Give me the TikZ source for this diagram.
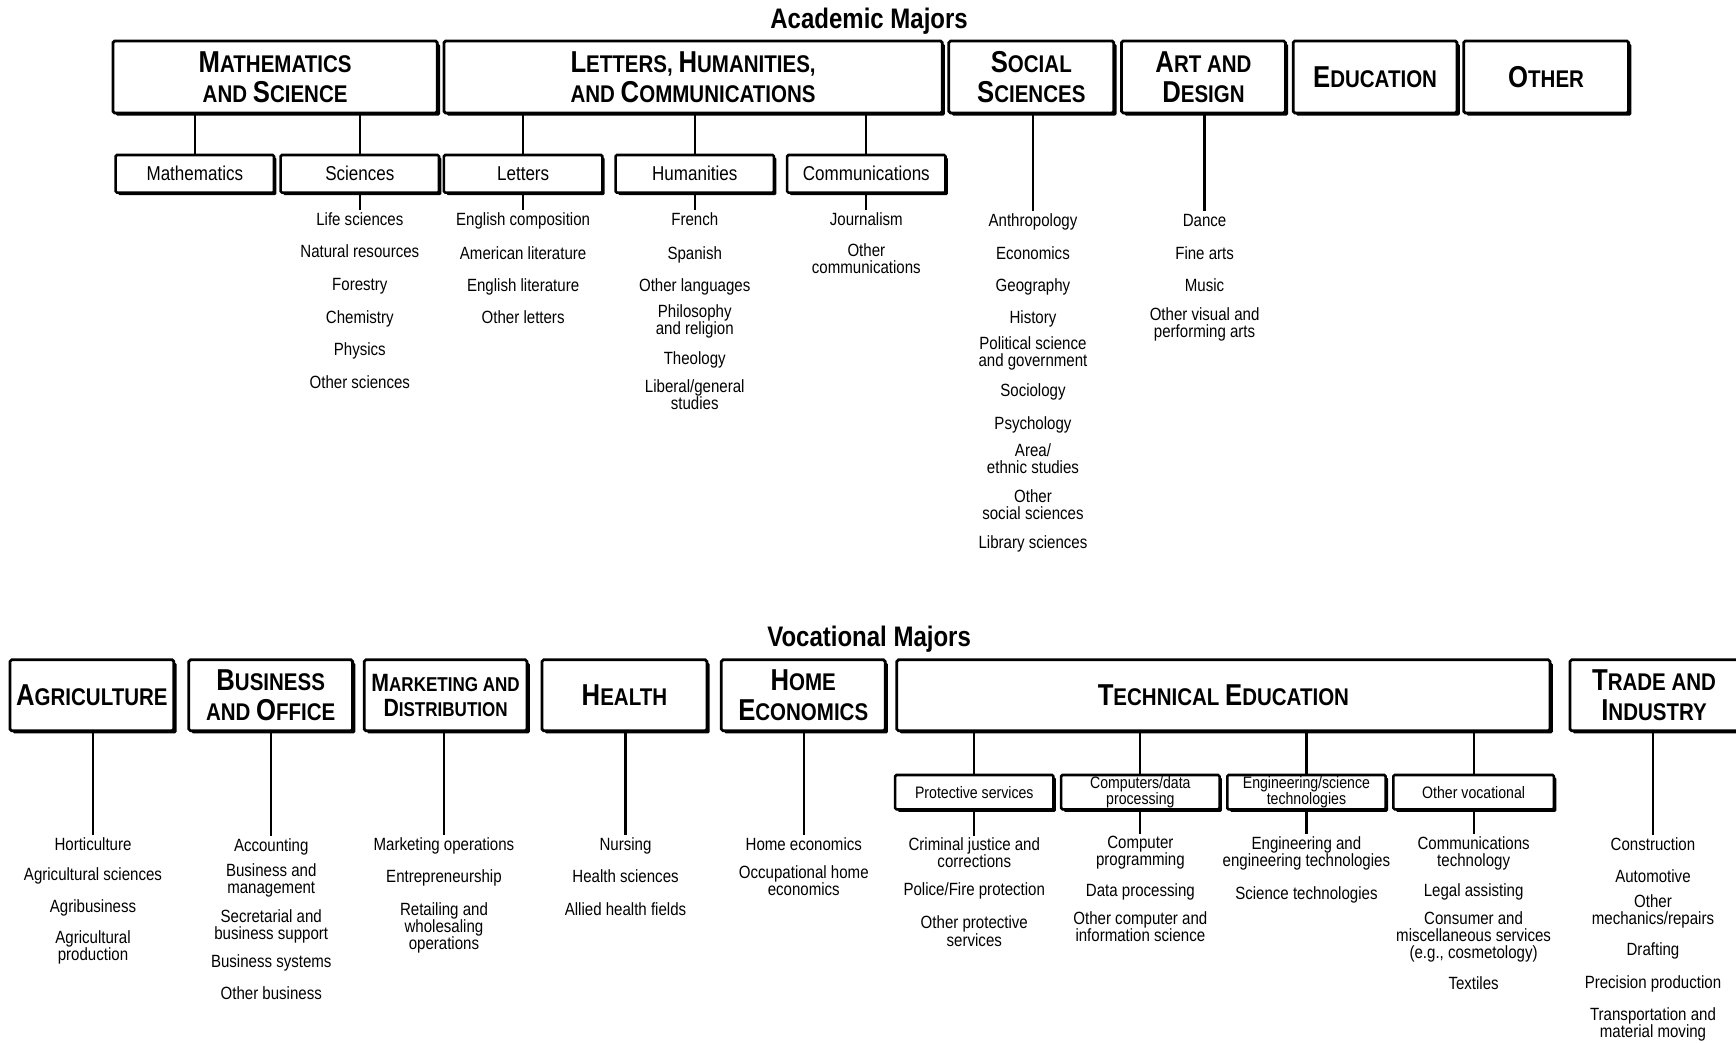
\documentclass[tikz,border=0pt]{standalone}
\usepackage{fontspec}
\setmainfont{Liberation Sans}[FakeStretch=0.85]
\usetikzlibrary{shadows}
\newcommand\Bg[1]{{\fontsize{27.3}{27}\selectfont #1}}
\newcommand\Bm[1]{{\fontsize{22.6}{23}\selectfont #1}}
\tikzset{
  hbox/.style={draw, line width=2.5pt, fill=white, rounded corners=1.5pt, inner sep=0pt,
    align=center, font=\bfseries\fontsize{21.8}{27}\selectfont,
    drop shadow={shadow xshift=2.5pt, shadow yshift=-2.5pt, fill=black, opacity=1}},
  mbox/.style={hbox, font=\bfseries\fontsize{18.1}{23}\selectfont},
  sbox/.style={draw, line width=2.3pt, fill=white, rounded corners=1.2pt, inner sep=0pt,
    align=center, minimum width=143pt, minimum height=34pt, font=\fontsize{18.1}{18}\selectfont,
    drop shadow={shadow xshift=2.2pt, shadow yshift=-2.2pt, fill=black, opacity=1}},
  tbox/.style={sbox, minimum height=31pt, font=\fontsize{15}{14}\selectfont},
  item/.style={align=center, inner sep=2pt, font=\fontsize{16}{15.5}\selectfont},
  one/.style={item, text height=12pt, text depth=2pt},
  ttl/.style={font=\bfseries\fontsize{25.5}{25}\selectfont},
  conn/.style={line width=2pt}
}
\begin{document}
\begin{tikzpicture}[x=1pt,y=-1pt]
\fill[white] (0,0) rectangle (1568,942);
\useasboundingbox (0,0) rectangle (1568,942);

% ---------------- Academic ----------------
\node[ttl] (acad) at (785,19) {Academic Majors};

\node[hbox, minimum width=293pt, minimum height=65pt] (ms)  at (248.5,69.5) {\Bg{M}ATHEMATICS\\AND \Bg{S}CIENCE};
\node[hbox, minimum width=450pt, minimum height=65pt] (lhc) at (626,69.5) {\Bg{L}ETTERS, \Bg{H}UMANITIES,\\AND \Bg{C}OMMUNICATIONS};
\node[hbox, minimum width=149pt, minimum height=65pt] (ss)  at (931.5,69.5) {\Bg{S}OCIAL\\\Bg{S}CIENCES};
\node[hbox, minimum width=148pt, minimum height=65pt] (ad)  at (1087,69.5) {\Bg{A}RT AND\\\Bg{D}ESIGN};
\node[hbox, minimum width=148pt, minimum height=65pt] (ed)  at (1242,69.5) {\Bg{E}DUCATION};
\node[hbox, minimum width=149pt, minimum height=65pt] (ot)  at (1396.5,69.5) {\Bg{O}THER};

\node[sbox] (mth) at (176,157) {Mathematics};
\node[sbox] (sci) at (325,157) {Sciences};
\node[sbox] (let) at (472.5,157) {Letters};
\node[sbox] (hum) at (627.5,157) {Humanities};
\node[sbox] (com) at (782.5,157) {Communications};

\draw[conn] (ms.south -| mth.north) -- (mth.north);
\draw[conn] (ms.south -| sci.north) -- (sci.north);
\draw[conn] (lhc.south -| let.north) -- (let.north);
\draw[conn] (lhc.south -| hum.north) -- (hum.north);
\draw[conn] (lhc.south -| com.north) -- (com.north);

% Sciences
\node[one] (sci1) at (325,199) {Life sciences};
\node[one] (sci2) at (325,228) {Natural resources};
\node[one] (sci3) at (325,257) {Forestry};
\node[one] (sci4) at (325,287) {Chemistry};
\node[one] (sci5) at (325,316) {Physics};
\node[one] (sci6) at (325,346) {Other sciences};
\draw[conn] (sci.south -| sci1.north) -- (sci1.north);

% Letters
\node[one] (let1) at (472.5,199) {English composition};
\node[one] (let2) at (472.5,229) {American literature};
\node[one] (let3) at (472.5,258) {English literature};
\node[one] (let4) at (472.5,287) {Other letters};
\draw[conn] (let.south -| let1.north) -- (let1.north);

% Humanities
\node[one] (hum1) at (627.5,199) {French};
\node[one] (hum2) at (627.5,229) {Spanish};
\node[one] (hum3) at (627.5,258) {Other languages};
\node[item] (hum4) at (627.5,290.5) {Philosophy\\and religion};
\node[one] (hum5) at (627.5,324) {Theology};
\node[item] (hum6) at (627.5,356.5) {Liberal/general\\studies};
\draw[conn] (hum.south -| hum1.north) -- (hum1.north);

% Communications
\node[one] (com1) at (782.5,199) {Journalism};
\node[item] (com2) at (782.5,234) {Other\\communications};
\draw[conn] (com.south -| com1.north) -- (com1.north);

% Social sciences
\node[one] (ss1)  at (933,200) {Anthropology};
\node[one] (ss2)  at (933,229) {Economics};
\node[one] (ss3)  at (933,258) {Geography};
\node[one] (ss4)  at (933,287) {History};
\node[item] (ss5)  at (933,319.5) {Political science\\and government};
\node[one] (ss6)  at (933,353) {Sociology};
\node[one] (ss7)  at (933,383) {Psychology};
\node[item] (ss8)  at (933,414.5) {Area/\\ethnic studies};
\node[item] (ss9)  at (933,456) {Other\\social sciences};
\node[one] (ss10) at (933,490) {Library sciences};
\draw[conn] (ss.south -| ss1.north) -- (ss1.north);

% Art and design
\node[one] (ad1) at (1088,200) {Dance};
\node[one] (ad2) at (1088,229) {Fine arts};
\node[one] (ad3) at (1088,258) {Music};
\node[item] (ad4) at (1088,293) {Other visual and\\performing arts};
\draw[conn] (ad.south -| ad1.north) -- (ad1.north);

% ---------------- Vocational ----------------
\node[ttl] (voc) at (785,577) {Vocational Majors};

\node[hbox, minimum width=148pt, minimum height=64pt] (agr) at (83,628) {\Bg{A}GRICULTURE};
\node[hbox, minimum width=148pt, minimum height=64pt] (bus) at (244.5,628) {\Bg{B}USINESS\\AND \Bg{O}FFICE};
\node[mbox, minimum width=147pt, minimum height=64pt] (mkt) at (402.5,628) {\Bm{M}ARKETING AND\\\Bm{D}ISTRIBUTION};
\node[hbox, minimum width=149pt, minimum height=64pt] (hea) at (564,628) {\Bg{H}EALTH};
\node[hbox, minimum width=148pt, minimum height=64pt] (hom) at (725.5,628) {\Bg{H}OME\\\Bg{E}CONOMICS};
\node[hbox, minimum width=590pt, minimum height=64pt] (tec) at (1105,628) {\Bg{T}ECHNICAL \Bg{E}DUCATION};
\node[hbox, minimum width=152pt, minimum height=64pt] (tra) at (1494,628) {\Bg{T}RADE AND\\\Bg{I}NDUSTRY};

\node[tbox] (pro) at (880,715.5) {Protective services};
\node[tbox] (cmp) at (1030,715.5) {Computers/data\\processing};
\node[tbox] (eng) at (1180,715.5) {Engineering/science\\technologies};
\node[tbox, minimum width=145pt] (ovc) at (1331,715.5) {Other vocational};

\draw[conn] (tec.south -| pro.north) -- (pro.north);
\draw[conn] (tec.south -| cmp.north) -- (cmp.north);
\draw[conn] (tec.south -| eng.north) -- (eng.north);
\draw[conn] (tec.south -| ovc.north) -- (ovc.north);

% Agriculture
\node[one] (agr1) at (84,763) {Horticulture};
\node[one] (agr2) at (84,790) {Agricultural sciences};
\node[one] (agr3) at (84,819) {Agribusiness};
\node[item] (agr4) at (84,856) {Agricultural\\production};
\draw[conn] (agr.south -| agr1.north) -- (agr1.north);

% Business
\node[one] (bus1) at (245,764) {Accounting};
\node[item] (bus2) at (245,795.5) {Business and\\management};
\node[item] (bus3) at (245,837) {Secretarial and\\business support};
\node[one] (bus4) at (245,869) {Business systems};
\node[one] (bus5) at (245,898) {Other business};
\draw[conn] (bus.south -| bus1.north) -- (bus1.north);

% Marketing
\node[one] (mkt1) at (401,763) {Marketing operations};
\node[one] (mkt2) at (401,792) {Entrepreneurship};
\node[item] (mkt3) at (401,838) {Retailing and\\wholesaling\\operations};
\draw[conn] (mkt.south -| mkt1.north) -- (mkt1.north);

% Health
\node[one] (hea1) at (565,763) {Nursing};
\node[one] (hea2) at (565,792) {Health sciences};
\node[one] (hea3) at (565,822) {Allied health fields};
\draw[conn] (hea.south -| hea1.north) -- (hea1.north);

% Home economics
\node[one] (hom1) at (726,763) {Home economics};
\node[item] (hom2) at (726,795.5) {Occupational home\\economics};
\draw[conn] (hom.south -| hom1.north) -- (hom1.north);

% Protective services
\node[item] (pro1) at (880,770.5) {Criminal justice and\\corrections};
\node[one] (pro2) at (880,804) {Police/Fire protection};
\node[item] (pro3) at (880,841) {Other protective\\services};
\draw[conn] (pro.south -| pro1.north) -- (pro1.north);

% Computers
\node[item] (cmp1) at (1030,770.5) {Computer\\programming};
\node[one] (cmp2) at (1030,805) {Data processing};
\node[item] (cmp3) at (1030,837) {Other computer and\\information science};
\draw[conn] (cmp.south -| cmp1.north) -- (cmp1.north);

% Engineering
\node[item] (eng1) at (1180,770.5) {Engineering and\\engineering technologies};
\node[one] (eng2) at (1180,807) {Science technologies};
\draw[conn] (eng.south -| eng1.north) -- (eng1.north);

% Other vocational
\node[item] (ovc1) at (1331,770.5) {Communications\\technology};
\node[one] (ovc2) at (1331,805) {Legal assisting};
\node[item] (ovc3) at (1331,846) {Consumer and\\miscellaneous services\\(e.g., cosmetology)};
\node[one] (ovc4) at (1331,889) {Textiles};
\draw[conn] (ovc.south -| ovc1.north) -- (ovc1.north);

% Trade and industry
\node[one] (tra1) at (1493,763) {Construction};
\node[one] (tra2) at (1493,792) {Automotive};
\node[item] (tra3) at (1493,823.5) {Other\\mechanics/repairs};
\node[one] (tra4) at (1493,858) {Drafting};
\node[one] (tra5) at (1493,888) {Precision production};
\node[item] (tra6) at (1493,925) {Transportation and\\material moving};
\draw[conn] (tra.south -| tra1.north) -- (tra1.north);
\end{tikzpicture}
\end{document}
